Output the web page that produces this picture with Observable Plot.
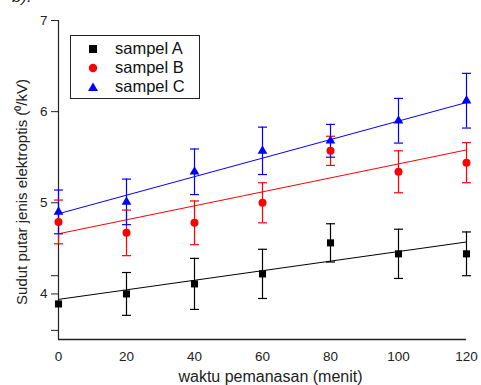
<!DOCTYPE html>
<html><head><meta charset="utf-8">
<script src="https://cdn.jsdelivr.net/npm/d3@7"></script>
<script src="https://cdn.jsdelivr.net/npm/@observablehq/plot@0.6"></script>
<style>
body{margin:0;background:#fff;font-family:"Liberation Sans",Arial,sans-serif;}
#wrap{position:relative;width:481px;height:385px;overflow:hidden;}
#legend{position:absolute;left:70px;top:35px;width:128px;height:62px;border:1px solid #222;background:#fff;font-size:16.5px;}
.row{position:absolute;left:0;height:19px;line-height:19px;}
.row svg{position:absolute;left:16px;top:4px;}
.row span{position:absolute;left:44px;white-space:nowrap;color:#111;}
#corner{position:absolute;left:12px;top:-13px;font-size:17px;font-style:italic;color:#222;}
</style></head><body>
<div id="wrap"></div>
<script>
const times = [0, 20, 40, 60, 80, 100, 120];
const seriesNames = ["sampel A", "sampel B", "sampel C"];
const seriesColors = ["#000000", "#ff0000", "#0000ff"];
const seriesSymbols = ["square", "circle", "triangle"];
const valuesA = [3.89, 4.00, 4.11, 4.22, 4.56, 4.44, 4.44];
const errorsA = [0.0, 0.235, 0.28, 0.27, 0.21, 0.27, 0.24];
const valuesB = [4.79, 4.67, 4.78, 5.00, 5.57, 5.34, 5.44];
const errorsB = [0.24, 0.25, 0.24, 0.22, 0.16, 0.23, 0.22];
const valuesC = [4.90, 5.01, 5.34, 5.57, 5.68, 5.90, 6.12];
const errorsC = [0.24, 0.25, 0.25, 0.26, 0.18, 0.245, 0.30];
const fitStart = [3.94, 4.66, 4.88]; // fit line value at t = 0
const fitEnd = [4.57, 5.58, 6.10];   // fit line value at t = 120
const yTicks = [4, 5, 6, 7];
const yMinorTicks = [3.6, 4.2];
const xTicks = [0, 20, 40, 60, 80, 100, 120];

const vals = [valuesA, valuesB, valuesC];
const errs = [errorsA, errorsB, errorsC];
const pts = [];
seriesNames.forEach((s, i) => times.forEach((t, j) => pts.push({s, i, t, v: vals[i][j], e: errs[i][j]})));
const fits = seriesNames.map((s, i) => ({s, i, t1: times[0], t2: times[times.length - 1], v1: fitStart[i], v2: fitEnd[i]}));
const errPts = pts.filter(d => d.e > 0);

const cap = {draw(ctx, size) { const w = 4.5; ctx.moveTo(-w, 0); ctx.lineTo(w, 0); }};
const colorOf = d => seriesColors[d.i];

const chart = Plot.plot({
  width: 481, height: 385,
  marginLeft: 58, marginRight: 15, marginTop: 20, marginBottom: 46,
  style: {fontFamily: "Liberation Sans, Arial, sans-serif", fontSize: "13px", color: "#222", background: "white"},
  x: {domain: [0, 120]},
  y: {domain: [3.5, 7]},
  marks: [
    Plot.axisX({ticks: xTicks, tickSize: 0, tickPadding: 12, fontSize: 13.5, label: null}),
    Plot.axisY({ticks: yTicks, tickSize: 7, tickPadding: 4, fontSize: 13.5, tickFormat: d => String(d), label: null}),
    Plot.axisY({ticks: yMinorTicks, tickSize: 7, tickFormat: () => "", label: null}),
    Plot.ruleX([0], {stroke: "#222", strokeWidth: 1.2}),
    Plot.ruleY([3.5], {stroke: "#222", strokeWidth: 1.5}),
    Plot.link(fits, {x1: "t1", x2: "t2", y1: "v1", y2: "v2", stroke: colorOf, strokeWidth: 1}),
    Plot.ruleX(errPts, {x: "t", y1: d => d.v - d.e, y2: d => d.v + d.e, stroke: colorOf, strokeWidth: 1.2}),
    Plot.dot(errPts, {x: "t", y: d => d.v + d.e, symbol: () => cap, r: 4, stroke: colorOf, strokeWidth: 1.2, fill: "none"}),
    Plot.dot(errPts, {x: "t", y: d => d.v - d.e, symbol: () => cap, r: 4, stroke: colorOf, strokeWidth: 1.2, fill: "none"}),
    Plot.dot(pts.filter(d => d.i === 0), {x: "t", y: "v", symbol: "square", r: 4, fill: colorOf, stroke: "none"}),
    Plot.dot(pts.filter(d => d.i === 1), {x: "t", y: "v", symbol: "circle", r: 4, fill: colorOf, stroke: "none"}),
    Plot.dot(pts.filter(d => d.i === 2), {x: "t", y: "v", symbol: "triangle", r: 3.6, fill: colorOf, stroke: "none"}),
    Plot.text(["Sudut putar jenis elektroptis (\u2070/kV)"], {frameAnchor: "left", textAnchor: "middle", dx: -36, dy: 12, rotate: -90, fontSize: 15, fill: "#222"}),
    Plot.text(["waktu pemanasan (menit)"], {frameAnchor: "bottom", textAnchor: "middle", lineAnchor: "bottom", dx: 8, dy: 42, fontSize: 16, fill: "#222"})
  ]
});
const wrap = document.getElementById("wrap");
wrap.appendChild(chart);

const corner = document.createElement("div");
corner.id = "corner";
corner.textContent = "b).";
wrap.appendChild(corner);

const leg = document.createElement("div");
leg.id = "legend";
const symPaths = {
  square: '<rect x="2" y="2" width="8" height="8"/>',
  circle: '<circle cx="6" cy="6" r="4.2"/>',
  triangle: '<path d="M6 1.5 L11 10 L1 10 Z"/>'
};
seriesNames.forEach((n, i) => {
  const r = document.createElement("div");
  r.className = "row";
  r.style.top = (3 + i * 19) + "px";
  r.innerHTML = `<svg width="12" height="12" fill="${seriesColors[i]}">${symPaths[seriesSymbols[i]]}</svg><span>${n}</span>`;
  leg.appendChild(r);
});
wrap.appendChild(leg);
</script>
</body></html>
